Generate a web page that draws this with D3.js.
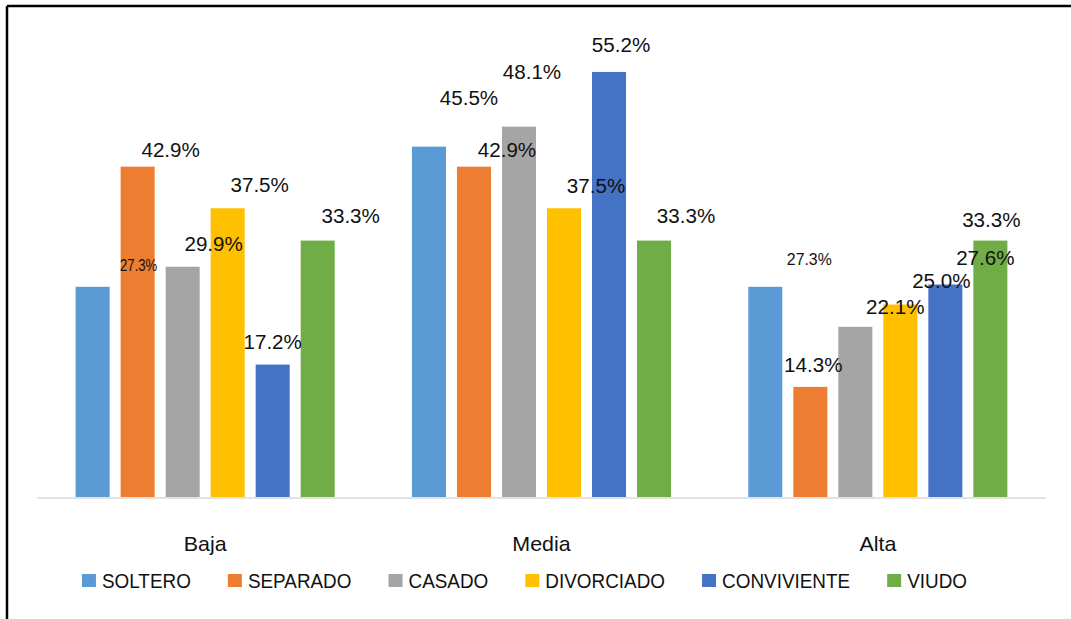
<!DOCTYPE html>
<html>
<head>
<meta charset="utf-8">
<script src="https://cdn.jsdelivr.net/npm/d3@7"></script>
<style>
  body { margin: 0; background: #fff; }
  text { font-family: "Liberation Sans", Arial, sans-serif; fill: #111; }
</style>
</head>
<body>
<div id="chart"></div>
<script>
// categories and series
const categories = ["Baja", "Media", "Alta"];
const series = ["SOLTERO", "SEPARADO", "CASADO", "DIVORCIADO", "CONVIVIENTE", "VIUDO"];
const colors = ["#5b9bd5", "#ed7d31", "#a5a5a5", "#ffc000", "#4472c4", "#70ad47"];

// values (%) per category, in series order
const baja  = [27.3, 42.9, 29.9, 37.5, 17.2, 33.3];
const media = [45.5, 42.9, 48.1, 37.5, 55.2, 33.3];
const alta  = [27.3, 14.3, 22.1, 25.0, 27.6, 33.3];
const values = [baja, media, alta];

// label nudges [dx, dy] from bar centre / bar top (labels were moved by hand in the original)
const labelNudge = [
    [[46, -22], [33, -17], [31, -23], [32, -23], [0, -23], [33, -25]],
    [[40, -49], [33, -17], [13, -55], [32, -22], [12, -27], [32, -25]],
    [[44, -28], [3, -22], [40, -20], [41, -24], [40, -27], [1, -21]]
];
// some labels are in a smaller font: [size, xscale]
const labelFont = [
    [[16, 0.82], null, null, null, null, null],
    [null, null, null, null, null, null],
    [[16, 0.99], null, null, null, null, null]
];

const W = 1071, H = 619;
const margin = {left: 37, right: 25, top: 35, bottom: 122};

const svg = d3.select("#chart").append("svg")
    .attr("width", W)
    .attr("height", H);

// frame (top + left edge)
svg.append("line").attr("x1", 7).attr("x2", W).attr("y1", 6).attr("y2", 6)
    .attr("stroke", "#000").attr("stroke-width", 2.5);
svg.append("line").attr("x1", 7).attr("x2", 7).attr("y1", 6).attr("y2", H)
    .attr("stroke", "#000").attr("stroke-width", 2.5);

var x0 = d3.scaleBand()
    .domain(categories)
    .range([margin.left, W - margin.right])
    .padding(0);

var x1 = d3.scaleBand()
    .domain(series)
    .range([0, x0.bandwidth()])
    .paddingInner(0.244)
    .paddingOuter(0.858);

var y = d3.scaleLinear()
    .domain([0, 60])
    .range([H - margin.bottom, H - margin.bottom - 60 * 7.7]);

const rows = [];
categories.forEach(function(c, i) {
    series.forEach(function(s, j) {
        rows.push({cat: c, ser: s, v: values[i][j], i: i, j: j});
    });
});

svg.append("g")
    .selectAll("rect")
    .data(rows)
    .enter()
    .append("rect")
        .attr("x", function(d) { return x0(d.cat) + x1(d.ser); })
        .attr("y", function(d) { return y(d.v); })
        .attr("width", x1.bandwidth())
        .attr("height", function(d) { return y(0) - y(d.v); })
        .attr("fill", function(d) { return colors[d.j]; });

// baseline
svg.append("line")
    .attr("x1", margin.left).attr("x2", W - margin.right)
    .attr("y1", y(0) + 1).attr("y2", y(0) + 1)
    .attr("stroke", "#d9d9d9").attr("stroke-width", 1.5);

// data labels
svg.append("g")
    .selectAll("text")
    .data(rows)
    .enter()
    .append("text")
        .attr("text-anchor", "middle")
        .attr("font-size", function(d) { var f = labelFont[d.i][d.j]; return f ? f[0] : 20; })
        .attr("transform", function(d) {
            var n = labelNudge[d.i][d.j];
            var f = labelFont[d.i][d.j];
            var fs = f ? f[0] : 20, sx = f ? f[1] : 1.03;
            var cx = x0(d.cat) + x1(d.ser) + x1.bandwidth() / 2 + n[0];
            var cy = y(d.v) + n[1] + fs * 0.358;
            return "translate(" + cx + "," + cy + ") scale(" + sx + ",1)";
        })
        .text(function(d) { return d.v.toFixed(1) + "%"; });

// category axis labels
svg.append("g")
    .selectAll("text")
    .data(categories)
    .enter()
    .append("text")
        .attr("text-anchor", "middle")
        .attr("font-size", 21)
        .attr("transform", function(d) {
            return "translate(" + (x0(d) + x0.bandwidth() / 2) + "," + (y(0) + 54) + ") scale(1.02,1)";
        })
        .text(function(d) { return d; });

// legend
var legend = svg.append("g");
var items = legend.selectAll("g")
    .data(series)
    .enter()
    .append("g");
items.append("rect")
    .attr("width", 14).attr("height", 13)
    .attr("y", 574)
    .attr("fill", function(d, j) { return colors[j]; });
items.append("text")
    .attr("font-size", 21)
    .text(function(d) { return d; });

var widths = [];
items.select("text").each(function() { widths.push(this.getComputedTextLength() * 0.9); });
var total = d3.sum(widths) + series.length * 20 + (series.length - 1) * 37;
var pos = 524.5 - total / 2;
items.each(function(d, j) {
    var g = d3.select(this);
    g.select("rect").attr("x", pos);
    g.select("text").attr("transform", "translate(" + (pos + 20) + ",587.5) scale(0.9,1)");
    pos += 20 + widths[j] + 37;
});
</script>
</body>
</html>
